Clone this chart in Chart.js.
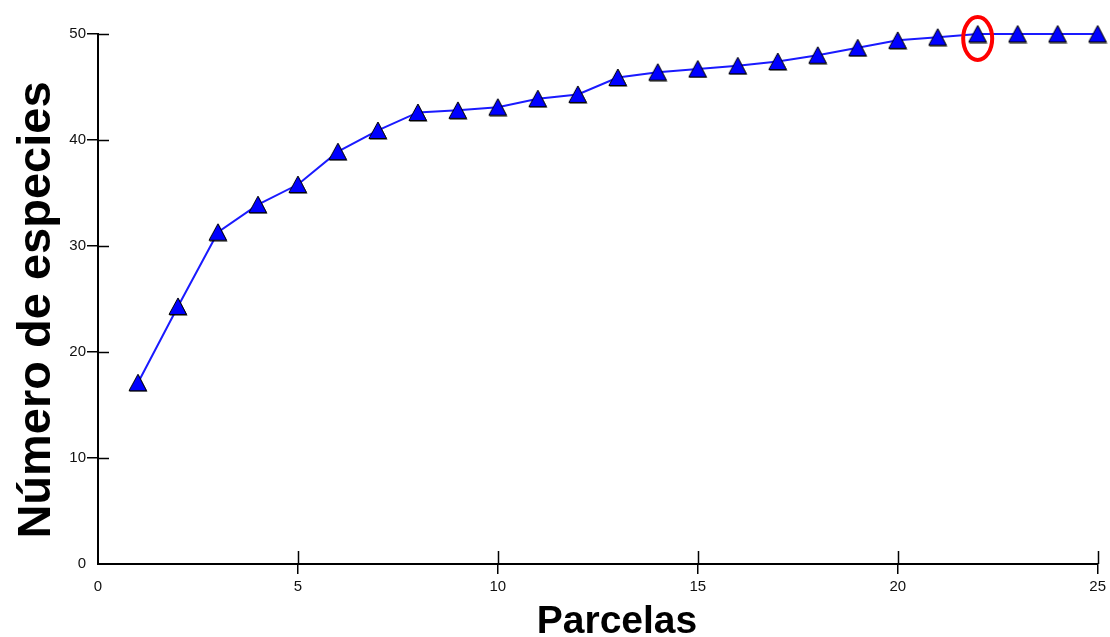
<!DOCTYPE html>
<html>
<head>
<meta charset="utf-8">
<script src="https://cdn.jsdelivr.net/npm/chart.js@4.4.1/dist/chart.umd.min.js"></script>
<style>
  html, body { margin: 0; padding: 0; background: #fff; }
  #wrap { width: 1110px; height: 637px; position: relative; }
</style>
</head>
<body>
<div id="wrap"><canvas id="c" width="1110" height="637"></canvas></div>
<script>
// ---- data ----
const parcelas = [1, 2, 3, 4, 5, 6, 7, 8, 9, 10, 11, 12, 13, 14, 15, 16, 17, 18, 19, 20, 21, 22, 23, 24, 25];
const especies = [17.1, 24.3, 31.3, 33.9, 35.8, 38.9, 40.9, 42.6, 42.8, 43.1, 43.9, 44.3, 45.9, 46.4, 46.7, 47.0, 47.4, 48.0, 48.7, 49.4, 49.7, 50, 50, 50, 50];
const xTicks = [0, 5, 10, 15, 20, 25];
const yTicks = [0, 10, 20, 30, 40, 50];
const xTitle = 'Parcelas';
const yTitle = 'Número de especies';
const highlightParcela = 22;

// ---- triangle marker ----
function makeTriangle() {
  const c = document.createElement('canvas');
  c.width = 20; c.height = 19;
  const g = c.getContext('2d');
  // dark shadow edge
  g.beginPath();
  g.moveTo(10.5, 1.5); g.lineTo(19.5, 18.5); g.lineTo(1.5, 18.5); g.closePath();
  g.fillStyle = '#000'; g.fill();
  g.beginPath();
  g.moveTo(10, 1); g.lineTo(18.5, 17.5); g.lineTo(1, 17.5); g.closePath();
  g.fillStyle = '#0000ff'; g.fill();
  g.lineWidth = 1; g.strokeStyle = '#000'; g.stroke();
  return c;
}
const tri = makeTriangle();

const points = parcelas.map((p, i) => ({ x: p, y: especies[i] }));

const FONT = "'Liberation Sans Narrow', 'Arial Narrow', 'Liberation Sans', Arial, sans-serif";
const TITLE_FONT = "'Liberation Sans', Arial, sans-serif";

const extras = {
  id: 'extras',
  beforeDatasetsDraw(chart) {
    const { ctx, chartArea, scales } = chart;
    ctx.save();
    ctx.strokeStyle = '#000';
    ctx.lineWidth = 1.5;
    ctx.beginPath();
    yTicks.forEach(v => {
      if (v === 0) return;
      const y = Math.round(scales.y.getPixelForValue(v)) + 0.5;
      ctx.moveTo(chartArea.left, y); ctx.lineTo(chartArea.left + 11, y);
    });
    xTicks.forEach(v => {
      if (v === 0) return;
      const x = Math.round(scales.x.getPixelForValue(v)) + 0.5;
      ctx.moveTo(x, chartArea.bottom); ctx.lineTo(x, chartArea.bottom - 13);
    });
    ctx.stroke();
    ctx.restore();
  },
  afterDatasetsDraw(chart) {
    const { ctx, scales } = chart;
    const idx = parcelas.indexOf(highlightParcela);
    const cx = scales.x.getPixelForValue(highlightParcela);
    const cy = scales.y.getPixelForValue(especies[idx]) + 4.5;
    ctx.save();
    ctx.strokeStyle = '#ff0000';
    ctx.lineWidth = 4;
    ctx.beginPath();
    ctx.ellipse(cx, cy, 14.5, 21.5, 0, 0, Math.PI * 2);
    ctx.stroke();
    ctx.restore();
  },
  afterDraw(chart) {
    const { ctx } = chart;
    ctx.save();
    ctx.fillStyle = '#000';
    ctx.font = "bold 39px " + TITLE_FONT;
    ctx.textAlign = 'center';
    ctx.textBaseline = 'alphabetic';
    ctx.fillText(xTitle, 617, 633);
    ctx.translate(50, 310);
    ctx.rotate(-Math.PI / 2);
    ctx.font = "bold 47px " + TITLE_FONT;
    ctx.fillText(yTitle, 0, 0);
    ctx.restore();
  }
};

const tickColor = (ctx) => (ctx.tick && ctx.tick.value === 0) ? 'rgba(0,0,0,0)' : '#000';

new Chart(document.getElementById('c'), {
  type: 'line',
  data: {
    datasets: [{
      data: points,
      borderColor: '#1a1aff',
      borderWidth: 2,
      tension: 0,
      fill: false,
      pointStyle: tri,
      pointRadius: 10,
      pointHoverRadius: 10,
      clip: false
    }]
  },
  options: {
    responsive: false,
    animation: false,
    events: [],
    layout: { padding: { left: 0, top: 34, right: 12, bottom: 0 } },
    plugins: { legend: { display: false }, tooltip: { enabled: false } },
    scales: {
      x: {
        type: 'linear',
        min: 0, max: 25,
        afterBuildTicks(scale) { scale.ticks = xTicks.map(v => ({ value: v })); },
        afterFit(scale) { scale.height = 73; },
        grid: { drawOnChartArea: false, drawTicks: true, tickLength: 10, color: tickColor, lineWidth: 1.5 },
        border: { display: true, color: '#000', width: 2 },
        ticks: { color: '#111', font: { family: FONT, size: 15 }, padding: 4, maxRotation: 0 }
      },
      y: {
        type: 'linear',
        min: 0, max: 50,
        afterBuildTicks(scale) { scale.ticks = yTicks.map(v => ({ value: v })); },
        afterFit(scale) { scale.width = 98; },
        grid: { drawOnChartArea: false, drawTicks: true, tickLength: 11, color: tickColor, lineWidth: 1.5 },
        border: { display: true, color: '#000', width: 2 },
        ticks: { color: '#111', font: { family: FONT, size: 15 }, padding: 1 }
      }
    }
  },
  plugins: [extras]
});
</script>
</body>
</html>
